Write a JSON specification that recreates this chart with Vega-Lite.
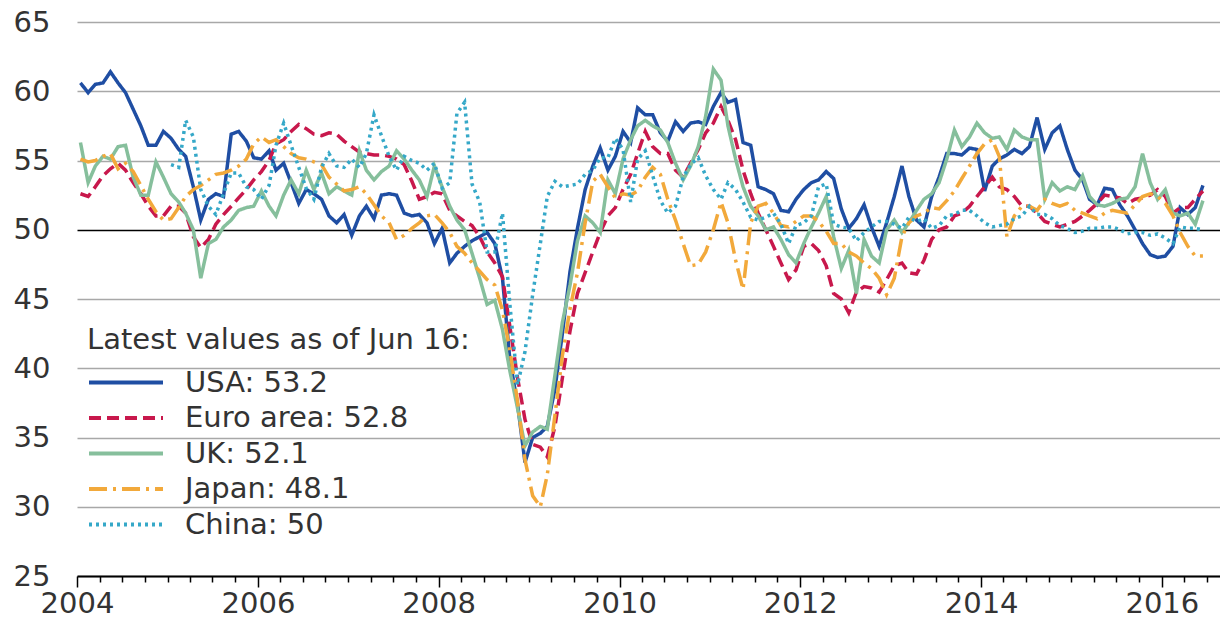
{
"$schema":"https://vega.github.io/schema/vega-lite/v6.json",
"autosize":{"type":"none"},
"padding":{"left":77,"top":22,"right":0,"bottom":50},
"width":1143,"height":554,
"background":"white",
"config":{"view":{"stroke":null},"font":"DejaVu Sans"},
"data":{"values":[
{"d":"2004-01-15","U":60.6,"E":52.6,"K":56.3,"J":55.1},
{"d":"2004-02-15","U":59.9,"E":52.4,"K":53.4,"J":54.9},
{"d":"2004-03-15","U":60.5,"E":53.1,"K":54.6,"J":55.0},
{"d":"2004-04-15","U":60.6,"E":53.9,"K":55.3,"J":55.3},
{"d":"2004-05-15","U":61.4,"E":54.4,"K":55.1,"J":55.5},
{"d":"2004-06-15","U":60.6,"E":54.8,"K":56.0,"J":54.4},
{"d":"2004-07-15","U":59.9,"E":54.3,"K":56.1,"J":54.8},
{"d":"2004-08-15","U":58.7,"E":53.4,"K":53.8,"J":54.2},
{"d":"2004-09-15","U":57.5,"E":52.6,"K":52.5,"J":53.2},
{"d":"2004-10-15","U":56.1,"E":51.7,"K":52.5,"J":52.2},
{"d":"2004-11-15","U":56.1,"E":51.0,"K":54.9,"J":51.3},
{"d":"2004-12-15","U":57.1,"E":51.0,"K":53.8,"J":50.7},
{"d":"2005-01-15","U":56.6,"E":51.7,"K":52.6,"J":50.8,"C":54.7},
{"d":"2005-02-15","U":55.8,"E":51.7,"K":52.0,"J":51.6,"C":54.5},
{"d":"2005-03-15","U":55.3,"E":51.2,"K":51.2,"J":52.4,"C":57.9},
{"d":"2005-04-15","U":53.1,"E":49.5,"K":50.0,"J":52.9,"C":56.7},
{"d":"2005-05-15","U":50.7,"E":48.7,"K":46.5,"J":53.2,"C":52.9},
{"d":"2005-06-15","U":52.2,"E":49.3,"K":49.0,"J":53.6,"C":51.7},
{"d":"2005-07-15","U":52.6,"E":50.4,"K":49.3,"J":54.0,"C":51.1},
{"d":"2005-08-15","U":52.4,"E":51.1,"K":50.2,"J":54.1,"C":52.6},
{"d":"2005-09-15","U":56.9,"E":51.7,"K":50.7,"J":54.3,"C":54.1},
{"d":"2005-10-15","U":57.1,"E":52.3,"K":51.4,"J":54.6,"C":54.1},
{"d":"2005-11-15","U":56.4,"E":52.9,"K":51.6,"J":55.1,"C":53.1},
{"d":"2005-12-15","U":55.2,"E":53.6,"K":51.7,"J":56.2,"C":52.9},
{"d":"2006-01-15","U":55.1,"E":54.2,"K":52.8,"J":56.7,"C":52.2},
{"d":"2006-02-15","U":55.7,"E":55.0,"K":51.7,"J":56.3,"C":53.2},
{"d":"2006-03-15","U":54.3,"E":56.2,"K":51.0,"J":56.5,"C":56.1},
{"d":"2006-04-15","U":54.8,"E":56.5,"K":52.5,"J":56.0,"C":57.7},
{"d":"2006-05-15","U":53.4,"E":57.1,"K":53.6,"J":55.5,"C":56.1},
{"d":"2006-06-15","U":51.9,"E":57.6,"K":52.6,"J":55.2,"C":54.5},
{"d":"2006-07-15","U":52.9,"E":57.3,"K":54.3,"J":55.1,"C":53.0},
{"d":"2006-08-15","U":52.6,"E":56.9,"K":52.9,"J":54.9,"C":52.2},
{"d":"2006-09-15","U":52.2,"E":56.8,"K":54.1,"J":54.7,"C":54.5},
{"d":"2006-10-15","U":51.0,"E":57.0,"K":52.6,"J":53.8,"C":55.5},
{"d":"2006-11-15","U":50.5,"E":56.9,"K":53.1,"J":53.3,"C":54.6},
{"d":"2006-12-15","U":51.1,"E":56.4,"K":52.8,"J":52.8,"C":54.5},
{"d":"2007-01-15","U":49.6,"E":56.0,"K":52.5,"J":52.9,"C":55.1},
{"d":"2007-02-15","U":51.0,"E":55.6,"K":55.7,"J":53.1,"C":54.5},
{"d":"2007-03-15","U":51.7,"E":55.5,"K":54.3,"J":52.6,"C":55.5},
{"d":"2007-04-15","U":50.8,"E":55.4,"K":53.6,"J":51.8,"C":58.3},
{"d":"2007-05-15","U":52.5,"E":55.4,"K":54.2,"J":51.0,"C":56.8},
{"d":"2007-06-15","U":52.6,"E":55.3,"K":54.6,"J":50.5,"C":55.3},
{"d":"2007-07-15","U":52.5,"E":55.1,"K":55.7,"J":49.3,"C":54.3},
{"d":"2007-08-15","U":51.2,"E":54.7,"K":55.1,"J":49.6,"C":55.3},
{"d":"2007-09-15","U":51.0,"E":53.5,"K":54.3,"J":50.1,"C":55.0},
{"d":"2007-10-15","U":51.1,"E":52.2,"K":53.6,"J":50.5,"C":54.8},
{"d":"2007-11-15","U":50.5,"E":52.4,"K":52.4,"J":51.0,"C":54.3},
{"d":"2007-12-15","U":49.0,"E":52.7,"K":54.6,"J":51.1,"C":54.8},
{"d":"2008-01-15","U":50.1,"E":52.6,"K":53.1,"J":50.5,"C":53.0},
{"d":"2008-02-15","U":47.6,"E":51.4,"K":51.7,"J":49.8,"C":53.4},
{"d":"2008-03-15","U":48.3,"E":51.0,"K":50.7,"J":48.8,"C":58.4},
{"d":"2008-04-15","U":48.8,"E":50.6,"K":50.0,"J":48.3,"C":59.2},
{"d":"2008-05-15","U":49.2,"E":50.3,"K":48.3,"J":47.6,"C":53.3},
{"d":"2008-06-15","U":49.5,"E":49.5,"K":46.5,"J":47.0,"C":52.0},
{"d":"2008-07-15","U":49.8,"E":48.4,"K":44.6,"J":46.4,"C":48.4},
{"d":"2008-08-15","U":49.0,"E":47.6,"K":44.9,"J":46.0,"C":48.4},
{"d":"2008-09-15","U":46.5,"E":46.6,"K":42.8,"J":44.2,"C":51.2},
{"d":"2008-10-15","U":40.6,"E":43.0,"K":39.8,"J":41.3,"C":44.6},
{"d":"2008-11-15","U":37.4,"E":39.3,"K":37.1,"J":37.6,"C":38.8},
{"d":"2008-12-15","U":33.2,"E":36.3,"K":34.4,"J":33.4,"C":41.2},
{"d":"2009-01-15","U":35.0,"E":34.5,"K":35.4,"J":30.8,"C":45.3},
{"d":"2009-02-15","U":35.3,"E":34.3,"K":35.8,"J":30.0,"C":49.0},
{"d":"2009-03-15","U":35.8,"E":33.6,"K":35.6,"J":32.3,"C":52.4},
{"d":"2009-04-15","U":38.5,"E":35.8,"K":39.5,"J":36.6,"C":53.5},
{"d":"2009-05-15","U":42.5,"E":39.3,"K":43.3,"J":40.9,"C":53.1},
{"d":"2009-06-15","U":47.0,"E":42.7,"K":46.0,"J":44.3,"C":53.2},
{"d":"2009-07-15","U":50.1,"E":45.4,"K":49.2,"J":46.9,"C":53.3},
{"d":"2009-08-15","U":52.9,"E":46.9,"K":51.0,"J":50.5,"C":54.0},
{"d":"2009-09-15","U":54.6,"E":48.4,"K":50.5,"J":53.5,"C":54.3},
{"d":"2009-10-15","U":55.9,"E":49.8,"K":49.8,"J":54.0,"C":55.2},
{"d":"2009-11-15","U":54.3,"E":51.0,"K":53.6,"J":53.1,"C":55.2},
{"d":"2009-12-15","U":55.3,"E":51.6,"K":52.6,"J":52.3,"C":56.6},
{"d":"2010-01-15","U":57.1,"E":52.9,"K":55.1,"J":52.6,"C":55.8},
{"d":"2010-02-15","U":56.3,"E":54.0,"K":56.5,"J":52.5,"C":52.0},
{"d":"2010-03-15","U":58.8,"E":55.5,"K":57.5,"J":52.8,"C":55.1},
{"d":"2010-04-15","U":58.3,"E":57.1,"K":57.9,"J":53.8,"C":55.7},
{"d":"2010-05-15","U":58.3,"E":56.0,"K":57.5,"J":54.5,"C":53.9},
{"d":"2010-06-15","U":57.0,"E":55.5,"K":57.2,"J":54.0,"C":52.1},
{"d":"2010-07-15","U":56.4,"E":55.5,"K":56.3,"J":52.2,"C":51.2},
{"d":"2010-08-15","U":57.8,"E":54.3,"K":54.8,"J":50.7,"C":51.7},
{"d":"2010-09-15","U":57.1,"E":53.8,"K":53.6,"J":49.0,"C":53.8},
{"d":"2010-10-15","U":57.7,"E":54.8,"K":54.6,"J":47.4,"C":54.7},
{"d":"2010-11-15","U":57.8,"E":55.8,"K":56.0,"J":47.5,"C":55.2},
{"d":"2010-12-15","U":57.6,"E":57.0,"K":58.2,"J":48.4,"C":53.9},
{"d":"2011-01-15","U":58.9,"E":57.7,"K":61.6,"J":50.0,"C":52.9},
{"d":"2011-02-15","U":59.9,"E":58.9,"K":60.8,"J":52.0,"C":52.2},
{"d":"2011-03-15","U":59.2,"E":57.9,"K":57.5,"J":50.5,"C":53.4},
{"d":"2011-04-15","U":59.4,"E":56.5,"K":55.1,"J":47.8,"C":52.9},
{"d":"2011-05-15","U":56.3,"E":54.3,"K":53.1,"J":45.7,"C":52.0},
{"d":"2011-06-15","U":56.1,"E":52.6,"K":51.7,"J":50.5,"C":50.9},
{"d":"2011-07-15","U":53.1,"E":51.2,"K":51.0,"J":51.7,"C":50.7},
{"d":"2011-08-15","U":52.9,"E":50.0,"K":50.0,"J":51.9,"C":50.9},
{"d":"2011-09-15","U":52.6,"E":48.8,"K":50.2,"J":51.2,"C":51.2},
{"d":"2011-10-15","U":51.4,"E":47.6,"K":49.3,"J":50.3,"C":50.4},
{"d":"2011-11-15","U":51.3,"E":46.4,"K":48.2,"J":50.2,"C":49.0},
{"d":"2011-12-15","U":52.2,"E":47.1,"K":47.6,"J":50.6,"C":50.3},
{"d":"2012-01-15","U":52.9,"E":48.8,"K":49.0,"J":51.0,"C":50.5},
{"d":"2012-02-15","U":53.4,"E":49.0,"K":50.2,"J":51.0,"C":51.0},
{"d":"2012-03-15","U":53.6,"E":48.5,"K":51.2,"J":50.6,"C":53.1},
{"d":"2012-04-15","U":54.2,"E":47.4,"K":52.4,"J":49.9,"C":53.3},
{"d":"2012-05-15","U":53.7,"E":45.4,"K":49.5,"J":49.0,"C":50.4},
{"d":"2012-06-15","U":51.5,"E":45.0,"K":47.2,"J":49.0,"C":50.2},
{"d":"2012-07-15","U":50.1,"E":44.0,"K":48.5,"J":48.4,"C":50.1},
{"d":"2012-08-15","U":50.8,"E":45.5,"K":45.4,"J":48.1,"C":49.2},
{"d":"2012-09-15","U":51.8,"E":45.9,"K":49.3,"J":47.6,"C":49.8},
{"d":"2012-10-15","U":50.2,"E":45.8,"K":48.1,"J":47.2,"C":50.2},
{"d":"2012-11-15","U":48.8,"E":45.5,"K":47.6,"J":46.5,"C":50.6},
{"d":"2012-12-15","U":50.5,"E":46.4,"K":50.0,"J":45.3,"C":50.6},
{"d":"2013-01-15","U":52.4,"E":47.4,"K":50.7,"J":46.5,"C":50.4},
{"d":"2013-02-15","U":54.6,"E":47.6,"K":49.8,"J":49.5,"C":50.1},
{"d":"2013-03-15","U":52.4,"E":46.9,"K":50.5,"J":50.5,"C":50.9},
{"d":"2013-04-15","U":50.7,"E":46.8,"K":51.4,"J":51.0,"C":50.6},
{"d":"2013-05-15","U":50.2,"E":47.8,"K":52.2,"J":51.2,"C":50.8},
{"d":"2013-06-15","U":52.4,"E":49.3,"K":52.6,"J":51.6,"C":50.1},
{"d":"2013-07-15","U":53.8,"E":50.0,"K":53.4,"J":51.5,"C":50.3},
{"d":"2013-08-15","U":55.5,"E":50.2,"K":55.1,"J":52.1,"C":51.0},
{"d":"2013-09-15","U":55.5,"E":51.0,"K":57.2,"J":52.8,"C":51.1},
{"d":"2013-10-15","U":55.4,"E":51.2,"K":56.0,"J":53.7,"C":51.4},
{"d":"2013-11-15","U":55.9,"E":51.7,"K":56.7,"J":54.6,"C":51.4},
{"d":"2013-12-15","U":55.8,"E":52.4,"K":57.7,"J":55.5,"C":51.0},
{"d":"2014-01-15","U":52.8,"E":53.1,"K":57.0,"J":56.2,"C":50.5},
{"d":"2014-02-15","U":54.6,"E":53.8,"K":56.6,"J":56.5,"C":50.2},
{"d":"2014-03-15","U":55.1,"E":53.1,"K":56.7,"J":55.3,"C":50.3},
{"d":"2014-04-15","U":55.4,"E":52.9,"K":55.8,"J":49.5,"C":50.4},
{"d":"2014-05-15","U":55.8,"E":52.4,"K":57.2,"J":51.0,"C":50.8},
{"d":"2014-06-15","U":55.5,"E":51.7,"K":56.7,"J":51.7,"C":51.0},
{"d":"2014-07-15","U":56.0,"E":51.7,"K":56.5,"J":51.7,"C":51.7},
{"d":"2014-08-15","U":58.1,"E":51.2,"K":56.5,"J":51.4,"C":51.1},
{"d":"2014-09-15","U":55.8,"E":50.6,"K":52.2,"J":52.2,"C":51.1},
{"d":"2014-10-15","U":57.0,"E":50.4,"K":53.4,"J":51.9,"C":50.8},
{"d":"2014-11-15","U":57.5,"E":50.2,"K":52.8,"J":51.7,"C":50.3},
{"d":"2014-12-15","U":55.8,"E":50.4,"K":53.1,"J":51.9,"C":50.1},
{"d":"2015-01-15","U":54.3,"E":50.6,"K":52.9,"J":51.4,"C":49.8},
{"d":"2015-02-15","U":53.6,"E":51.0,"K":53.9,"J":51.2,"C":49.9},
{"d":"2015-03-15","U":52.2,"E":51.4,"K":52.4,"J":51.0,"C":50.1},
{"d":"2015-04-15","U":51.8,"E":51.9,"K":51.8,"J":50.8,"C":50.1},
{"d":"2015-05-15","U":53.0,"E":52.5,"K":51.7,"J":51.2,"C":50.2},
{"d":"2015-06-15","U":52.9,"E":52.4,"K":51.9,"J":51.4,"C":50.2},
{"d":"2015-07-15","U":51.8,"E":52.3,"K":52.2,"J":51.3,"C":50.0},
{"d":"2015-08-15","U":51.0,"E":51.9,"K":52.3,"J":51.2,"C":49.7},
{"d":"2015-09-15","U":50.0,"E":52.2,"K":53.1,"J":51.8,"C":49.8},
{"d":"2015-10-15","U":49.0,"E":52.3,"K":55.5,"J":52.4,"C":49.8},
{"d":"2015-11-15","U":48.2,"E":52.5,"K":53.4,"J":52.6,"C":49.6},
{"d":"2015-12-15","U":48.0,"E":52.9,"K":52.2,"J":52.4,"C":49.7},
{"d":"2016-01-15","U":48.1,"E":52.4,"K":52.9,"J":51.9,"C":49.4},
{"d":"2016-02-15","U":48.8,"E":51.2,"K":51.2,"J":51.0,"C":49.0},
{"d":"2016-03-15","U":51.6,"E":51.6,"K":51.0,"J":49.8,"C":50.2},
{"d":"2016-04-15","U":51.1,"E":51.6,"K":51.2,"J":48.8,"C":50.1},
{"d":"2016-05-15","U":51.6,"E":52.2,"K":50.4,"J":48.1,"C":50.1},
{"d":"2016-06-15","U":53.2,"E":52.8,"K":52.1,"J":48.1,"C":50.0}
]},
"transform":[{"fold":["U","E","K","J","C"],"as":["s","v"]}],
"mark":{"type":"line","strokeWidth":3.5,"clip":false},
"encoding":{
"x":{"field":"d","type":"temporal",
 "scale":{"domain":["2004-01-01","2016-08-23"],"nice":false},
 "axis":{"orient":"bottom","title":null,"grid":false,
  "tickCount":{"interval":"month","step":3},
  "labelExpr":"month(datum.value)==0 && year(datum.value)%2==0 ? timeFormat(datum.value,'%Y') : ''",
  "tickSize":{"condition":{"test":"month(datum.value)==0 && year(datum.value)%2==0","value":11},"value":6},
  "labelOverlap":false,"labelFlush":false,"labelPadding":2,
  "labelFont":"DejaVu Sans","labelFontSize":29,"labelColor":"#333",
  "domainColor":"#000","domainWidth":2,"tickColor":"#000","tickWidth":1.5}},
"y":{"field":"v","type":"quantitative",
 "scale":{"domain":[25,65],"nice":false,"zero":false},
 "axis":{"title":null,"values":[25,30,35,40,45,50,55,60,65],"domain":false,"ticks":false,"tickSize":0,
  "labelPadding":27,"labelFont":"DejaVu Sans","labelFontSize":29,"labelColor":"#333",
  "grid":true,"gridWidth":1.6,
  "gridColor":{"condition":{"test":"datum.value==50","value":"#000000"},"value":"#a8a8a8"}}},
"color":{"field":"s","type":"nominal",
 "scale":{"domain":["U","E","K","J","C"],"range":["#1f4ea3","#c8184c","#86bf9c","#f2a93b","#35a8c8"]},
 "legend":{"orient":"none","legendX":10,"legendY":304,"padding":0,
  "title":"Latest values as of Jun 16:","titleFont":"DejaVu Sans","titleFontSize":29,"titleFontWeight":"normal","titleColor":"#333","titlePadding":10,"titleLimit":800,
  "labelFont":"DejaVu Sans","labelFontSize":29,"labelColor":"#333","labelLimit":600,"labelOffset":20,
  "labelExpr":"datum.label=='U' ? 'USA: 53.2' : datum.label=='E' ? 'Euro area: 52.8' : datum.label=='K' ? 'UK: 52.1' : datum.label=='J' ? 'Japan: 48.1' : 'China: 50'",
  "symbolType":"stroke","symbolSize":5476,"symbolStrokeWidth":4,"clipHeight":35,"rowPadding":0.5}},
"strokeDash":{"field":"s","type":"nominal",
 "scale":{"domain":["U","E","K","J","C"],"range":[[1,0],[12,6],[1,0],[18,6,3,6],[3,4]]}}
}
}
